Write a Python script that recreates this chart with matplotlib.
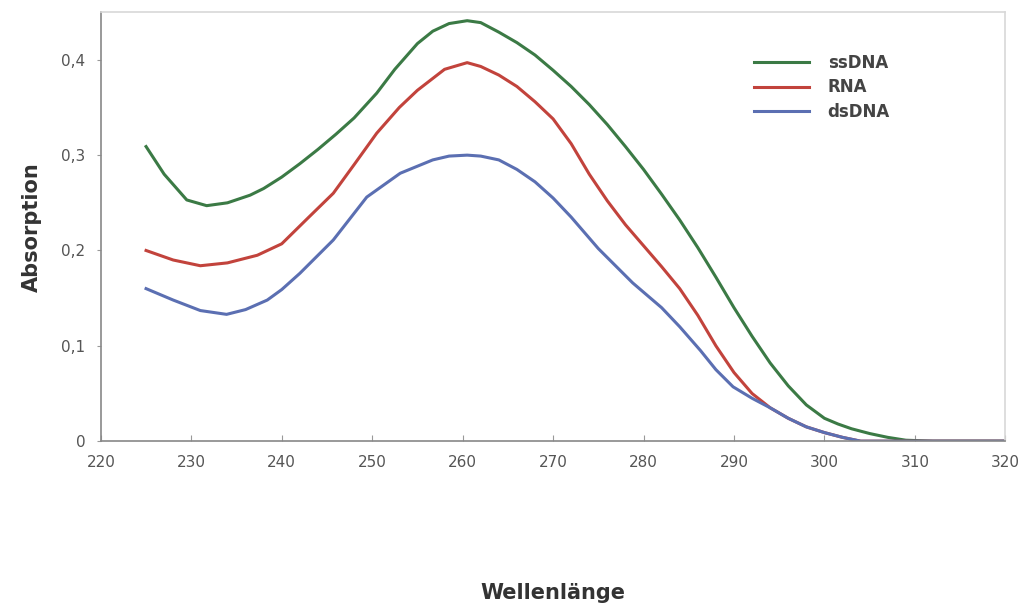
import numpy as np
import matplotlib
matplotlib.use("Agg")
import matplotlib.pyplot as plt

# wavelength (nm) and absorbance
wl_green = [225, 227, 229.5, 231.7, 234, 236.5, 238, 240, 242, 244, 246, 248, 250.5, 252.5, 255, 256.7, 258.5, 260.5,
            262, 264, 266, 268, 270, 272, 274, 276, 278, 280, 282, 284, 286, 288, 290, 292, 294, 296, 298, 300,
            301.5, 303, 305, 307, 309, 312, 316, 320]
ssdna = [0.309, 0.28, 0.253, 0.247, 0.25, 0.258, 0.265, 0.277, 0.291, 0.306, 0.322, 0.339, 0.365, 0.39, 0.417, 0.43,
         0.438, 0.441, 0.439, 0.429, 0.418, 0.405, 0.389, 0.372, 0.353, 0.332, 0.309, 0.285, 0.259, 0.232, 0.203, 0.172,
         0.14, 0.11, 0.082, 0.058, 0.038, 0.024, 0.018, 0.013, 0.008, 0.004, 0.001, 0.0, 0.0, 0.0]

wl_red = [225, 228, 231, 234, 237.3, 240, 243, 245.7, 248, 250.5, 253, 255, 258, 260.5, 262, 264, 266, 268, 270, 272,
          274, 276, 278, 280, 282, 284, 286, 288, 290, 292, 294, 296, 298, 300, 302, 304, 310, 320]
rna = [0.2, 0.19, 0.184, 0.187, 0.195, 0.207, 0.235, 0.26, 0.29, 0.323, 0.35, 0.368, 0.39, 0.397, 0.393, 0.384, 0.372,
       0.356, 0.338, 0.312, 0.28, 0.252, 0.227, 0.205, 0.183, 0.16, 0.132, 0.1, 0.072, 0.05, 0.035, 0.024, 0.015, 0.009,
       0.004, 0.0, 0.0, 0.0]

wl_blue = [225, 228, 231, 233.9, 236, 238.4, 240, 242, 245.7, 249.4, 253.1, 256.7, 258.5, 260.5, 262, 264, 266, 268,
           270, 272, 275, 278.8, 282, 284, 286.3, 288, 289.9, 292, 294, 296, 298, 300, 302, 304, 310, 320]
dsdna = [0.16, 0.148, 0.137, 0.133, 0.138, 0.148, 0.159, 0.176, 0.211, 0.256, 0.281, 0.295, 0.299, 0.3, 0.299, 0.295,
         0.285, 0.272, 0.255, 0.235, 0.202, 0.166, 0.14, 0.12, 0.095, 0.075, 0.057, 0.045, 0.035, 0.024, 0.015, 0.009,
         0.004, 0.0, 0.0, 0.0]

xticks = [220, 230, 240, 250, 260, 270, 280, 290, 300, 310, 320]
yticks = [0, 0.1, 0.2, 0.3, 0.4]
ylabels = ["0", "0,1", "0,2", "0,3", "0,4"]

fig = plt.figure(figsize=(10.29, 6.06), dpi=100)
ax = fig.add_axes([0.098, 0.272, 0.879, 0.708])

ax.plot(wl_green, ssdna, color="#3b7a45", lw=2.2, label="ssDNA")
ax.plot(wl_red, rna, color="#c2433c", lw=2.2, label="RNA")
ax.plot(wl_blue, dsdna, color="#5b6fb2", lw=2.2, label="dsDNA")

ax.set_xlim(220, 320)
ax.set_ylim(0, 0.45)
ax.set_xticks(xticks)
ax.set_xticklabels([str(t) for t in xticks])
ax.set_yticks(yticks)
ax.set_yticklabels(ylabels)
ax.tick_params(axis="x", direction="in", length=4, colors="#999999", labelcolor="#555555", labelsize=11, pad=10)
ax.tick_params(axis="y", direction="out", length=3, colors="#999999", labelcolor="#555555", labelsize=11, pad=8)

for s in ["left", "bottom"]:
    ax.spines[s].set_color("#888888")
    ax.spines[s].set_linewidth(1.2)
for s in ["top", "right"]:
    ax.spines[s].set_color("#d8d8d8")
    ax.spines[s].set_linewidth(1.2)

ax.set_ylabel("Absorption", fontsize=15, fontweight="bold", color="#333333", labelpad=14)
fig.text(0.537, 0.012, "Wellenlänge", fontsize=15, fontweight="bold", color="#333333", ha="center")

leg = ax.legend(loc="upper left", bbox_to_anchor=(0.706, 0.937), frameon=False, handlelength=3.3,
                handletextpad=1.1, labelspacing=0.38, prop={"size": 12, "weight": "bold"})
for t in leg.get_texts():
    t.set_color("#444444")

fig.savefig("out.png", dpi=100)
